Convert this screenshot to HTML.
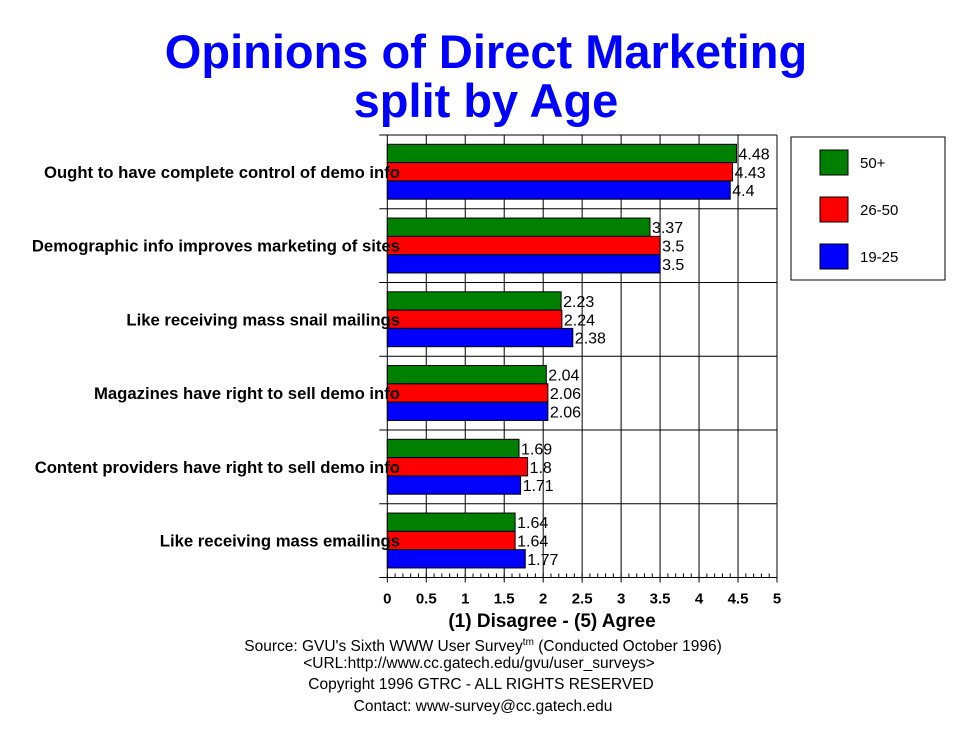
<!DOCTYPE html>
<html><head><meta charset="utf-8"><style>
body{margin:0;background:#fff;}
svg text{font-family:"Liberation Sans",Arial,sans-serif;}
</style></head><body>
<svg width="970" height="736" viewBox="0 0 970 736" id="c">
<text x="486" y="68" text-anchor="middle" font-size="47" font-weight="bold" fill="#0000ff">Opinions of Direct Marketing</text>
<text x="486" y="117" text-anchor="middle" font-size="47" font-weight="bold" fill="#0000ff">split by Age</text>
<g id="plot"></g>
<rect x="791" y="137" width="154" height="143" fill="#fff" stroke="#000"/>
<g id="legend"></g>
<text x="552" y="627" text-anchor="middle" font-size="19" font-weight="bold">(1) Disagree - (5) Agree</text>
<g font-size="15.5" text-anchor="middle">
<text x="483" y="651">Source: GVU's Sixth WWW User Survey<tspan font-size="10" dy="-6">tm</tspan><tspan dy="6">  (Conducted October 1996)</tspan></text>
<text x="479" y="668">&lt;URL:http://www.cc.gatech.edu/gvu/user_surveys&gt;</text>
<text x="481" y="689">Copyright 1996 GTRC -  ALL RIGHTS RESERVED</text>
<text x="483" y="711">Contact: www-survey@cc.gatech.edu</text>
</g>
</svg>
<script>
const categories=["Ought to have complete control of demo info","Demographic info improves marketing of sites","Like receiving mass snail mailings","Magazines have right to sell demo info","Content providers have right to sell demo info","Like receiving mass emailings"];
const seriesNames=["50+","26-50","19-25"];
const seriesColors=["#008000","#ff0000","#0000ff"];
const s50=[4.48,3.37,2.23,2.04,1.69,1.64];
const s26=[4.43,3.5,2.24,2.06,1.8,1.64];
const s19=[4.4,3.5,2.38,2.06,1.71,1.77];
const ticks=[0,0.5,1,1.5,2,2.5,3,3.5,4,4.5,5];
const series=[s50,s26,s19];
const NS="http://www.w3.org/2000/svg";
const X0=387.3,X1=777,Y0=135,Y1=577.5,XMAX=5;
const x=v=>X0+(X1-X0)*v/XMAX;
const gh=(Y1-Y0)/categories.length;
const plot=document.getElementById('plot');
function mk(t,a,p){const e=document.createElementNS(NS,t);for(const k in a)e.setAttribute(k,a[k]);(p||plot).appendChild(e);return e;}
ticks.forEach(t=>{if(t>0){const l=mk('line',{x1:x(t),x2:x(t),y1:Y0,y2:Y1,stroke:'#000','stroke-width':1});

}
const tk=mk('line',{x1:x(t),x2:x(t),y1:Y1,y2:Y1+5,stroke:'#000'});


const lb=mk('text',{x:x(t),y:Y1+26,'text-anchor':'middle','font-size':15,'font-weight':'bold'});lb.textContent=String(t);

});
for(let v=0;v<=XMAX+1e-9;v+=0.1){mk('line',{x1:x(v),x2:x(v),y1:Y1-4,y2:Y1,stroke:'#000'});}
for(let i=0;i<=categories.length;i++){const y=Y0+gh*i;
const l=mk('line',{x1:X0-8,x2:X1,y1:y,y2:y,stroke:'#000'});

}
mk('line',{x1:X0,x2:X0,y1:Y0,y2:Y1,stroke:'#000'});
categories.forEach((c,i)=>{const gy=Y0+gh*i;const bh=18.3,top=gy+9.3;
series.forEach((s,j)=>{const y=top+bh*j;
const r=mk('rect',{x:X0,y:y,width:x(s[i])-X0,height:bh,fill:seriesColors[j],stroke:'#000','stroke-width':1});


const t=mk('text',{x:x(s[i])+2,y:y+bh/2+6,'font-size':16});t.textContent=String(s[i]);

});
const lb=mk('text',{x:400,y:top+bh*1.5+6,'text-anchor':'end','font-size':16.7,'font-weight':'bold'});lb.textContent=c;

});
const lg=document.getElementById('legend');
seriesNames.forEach((n,j)=>{const y=150+j*47;
const r=mk('rect',{x:820,y:y,width:28,height:25,fill:seriesColors[j],stroke:'#000'},lg);


const t=mk('text',{x:860,y:y+18,'font-size':15},lg);t.textContent=n;

});
</script>
</body></html>
